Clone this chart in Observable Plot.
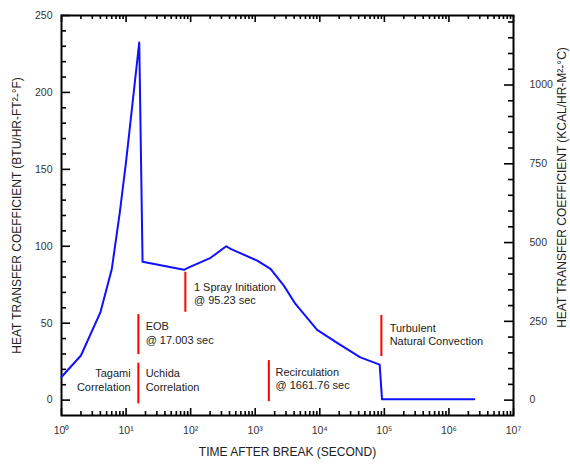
<!DOCTYPE html>
<html><head><meta charset="utf-8">
<script src="https://cdn.jsdelivr.net/npm/d3@7"></script>
<script src="https://cdn.jsdelivr.net/npm/@observablehq/plot@0.6"></script>
<style>body{margin:0;background:#fff;} svg{display:block;}</style>
</head><body><div id="chart"></div>
<script>
// ---- data ----
const timeSec = [1, 2, 4, 6, 8, 10, 16, 18, 79, 94, 204, 356, 415, 1074, 1726, 2772, 4200, 9100, 19650, 42500, 84600, 92000, 2470000];
const htcBtu  = [15, 29, 57, 85, 122, 155, 232.5, 90, 84.7, 86.3, 92.5, 100, 98.3, 90.7, 85.3, 74.4, 62.5, 45.6, 36.5, 27.8, 23.1, 0.5, 0.5];

const markerTime = [15.5, 15.5, 82.8, 1625, 89900];
const markerLow  = [29.6, -2.5, 57.1, -1, 28.3];
const markerHigh = [55.6, 24, 83.1, 25.7, 55];

const noteText   = ["Tagami\nCorrelation", "Uchida\nCorrelation", "EOB\n@ 17.003 sec", "1 Spray Initiation\n@ 95.23 sec", "Recirculation\n@ 1661.76 sec", "Turbulent\nNatural Convection"];
const noteTime   = [11.8, 20.1, 20.1, 112.4, 2063, 120800];
const noteValue  = [13.3, 13.3, 43.9, 69.6, 14.4, 43];
const noteAnchor = ["end", "start", "start", "start", "start", "start"];

const leftMajor  = [0, 50, 100, 150, 200, 250];
const leftMinor  = d3.range(10, 250, 10).filter(v => v % 50 !== 0);
const rightMajor = [0, 250, 500, 750, 1000];
const rightMinor = d3.range(50, 1250, 50).filter(v => v % 250 !== 0);
const decades    = [1, 10, 100, 1e3, 1e4, 1e5, 1e6, 1e7];
const decadeLabels = ["10⁰", "10¹", "10²", "10³", "10⁴", "10⁵", "10⁶", "10⁷"];
const minorX = [];
for (let k = 0; k < 7; k++) for (let m = 2; m <= 9; m++) minorX.push(m * Math.pow(10, k));

const KCAL_PER_BTU = 4.8824;

// ---- layout ----
const W = 570, H = 464, ML = 61, MR = 57, MT = 15, MB = 49;
const FW = W - ML - MR, FH = H - MT - MB;

const series = timeSec.map((t, i) => ({t, v: htcBtu[i]}));
const markers = markerTime.map((t, i) => ({t, y1: markerLow[i], y2: markerHigh[i]}));
const notes = noteText.map((s, i) => ({s, t: noteTime[i], v: noteValue[i], a: noteAnchor[i]}));

const tickStroke = {stroke: "black", strokeWidth: 1.6};
const labelStyle = {fontSize: 10.5, fill: "#333"};
const noteStyle = {x: "t", y: "v", text: "s", lineAnchor: "middle", lineHeight: 1.22, fontSize: 11, fill: "#222"};

const chart = Plot.plot({
  width: W, height: H,
  marginLeft: ML, marginRight: MR, marginTop: MT, marginBottom: MB,
  x: {type: "log", domain: [1, 1e7], axis: null},
  y: {domain: [-10, 250], axis: null},
  style: {fontFamily: "'Liberation Sans', Arial, sans-serif", background: "white"},
  marks: [
    // ticks (inward)
    Plot.tickY(leftMajor, {y: d => d, insetRight: FW - 9, ...tickStroke}),
    Plot.tickY(leftMinor, {y: d => d, insetRight: FW - 5, ...tickStroke}),
    Plot.tickY(rightMajor, {y: d => d / KCAL_PER_BTU, insetLeft: FW - 9, ...tickStroke}),
    Plot.tickY(rightMinor, {y: d => d / KCAL_PER_BTU, insetLeft: FW - 5, ...tickStroke}),
    Plot.tickX(decades, {x: d => d, insetTop: FH - 7, ...tickStroke}),
    Plot.tickX(minorX, {x: d => d, insetTop: FH - 4, ...tickStroke}),
    Plot.tickX(decades, {x: d => d, insetBottom: FH - 7, ...tickStroke}),
    Plot.tickX(minorX, {x: d => d, insetBottom: FH - 4, ...tickStroke}),
    Plot.frame({stroke: "black", strokeWidth: 2}),
    // tick labels
    Plot.text(leftMajor, {y: d => d, frameAnchor: "left", dx: -9, textAnchor: "end", text: d => String(d), ...labelStyle}),
    Plot.text(rightMajor, {y: d => d / KCAL_PER_BTU, frameAnchor: "right", dx: 16, textAnchor: "start", text: d => String(d), ...labelStyle}),
    Plot.text(decades, {x: d => d, frameAnchor: "bottom", dy: 18, textAnchor: "middle", text: (d, i) => decadeLabels[i], ...labelStyle}),
    // axis titles
    Plot.text(["HEAT TRANSFER COEFFICIENT (BTU/HR-FT²-°F)"], {frameAnchor: "left", dx: -44, rotate: -90, textAnchor: "middle", text: d => d, fontSize: 12, fill: "#222"}),
    Plot.text(["HEAT TRANSFER COEFFICIENT (KCAL/HR-M²-°C)"], {frameAnchor: "right", dx: 49, dy: -28, rotate: -90, textAnchor: "middle", text: d => d, fontSize: 12, fill: "#222"}),
    Plot.text(["TIME AFTER BREAK (SECOND)"], {frameAnchor: "bottom", dy: 40, textAnchor: "middle", text: d => d, fontSize: 12, fill: "#222"}),
    // markers and notes
    Plot.ruleX(markers, {x: "t", y1: "y1", y2: "y2", stroke: "#ff0000", strokeWidth: 2}),
    Plot.text(notes.filter(d => d.a === "end"), {...noteStyle, textAnchor: "end"}),
    Plot.text(notes.filter(d => d.a === "start"), {...noteStyle, textAnchor: "start"}),
    // curve
    Plot.line(series, {x: "t", y: "v", stroke: "#1010ff", strokeWidth: 2})
  ]
});
document.getElementById("chart").appendChild(chart);
</script>
</body></html>
